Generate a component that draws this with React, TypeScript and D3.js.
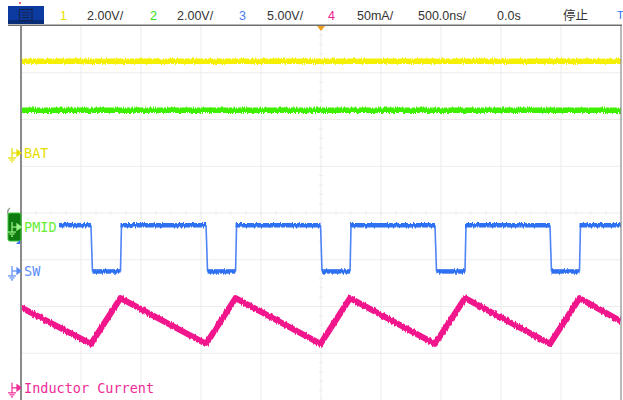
import React from "react";
import * as d3 from "d3";

// ---- Screen / scope settings ----
const W = 623;
const H = 400;
const timePerDivNs = 500;
const hDivs = 10;
const vDivs = 8;

// ---- Header texts ----
const headerItems = [
  { text: "1", x: 60, color: "#e8e000" },
  { text: "2.00V/", x: 87, color: "#333" },
  { text: "2", x: 150, color: "#33dd11" },
  { text: "2.00V/", x: 177, color: "#333" },
  { text: "3", x: 239, color: "#4a7cf0" },
  { text: "5.00V/", x: 267, color: "#333" },
  { text: "4", x: 328, color: "#f0208c" },
  { text: "50mA/", x: 357, color: "#333" },
  { text: "500.0ns/", x: 418, color: "#333" },
  { text: "0.0s", x: 497, color: "#333" },
  { text: "停止", x: 563, color: "#333" },
];

// ---- Channel settings (units/div, ground-ref offset in div) ----
const chNames = ["BAT", "PMID", "SW", "Inductor Current"];
const chColors = ["#f4f000", "#3cf000", "#2f6ff2", "#f2128c"];
const chLabelColors = ["#e6e000", "#66ee33", "#5a8cf5", "#ee2a96"];
const chScale = [2.0, 2.0, 5.0, 50];
const chOffsetDiv = [1.283, -0.3, -1.24, -3.74];

// ---- Waveform data (time in ns, values in channel units) ----
const batTimeNs = [-2500, 2500];
const batVolts = [3.93, 3.93];

const pmidTimeNs = [-2500, 2500];
const pmidVolts = [5.0, 5.0];

const swStartNs = -2183;
const swEndNs = 2500;
const swFallNs = [-1917, -958, -4, 950, 1908];
const swRiseNs = [-1671, -712, 242, 1200, 2154];
const swHighV = 4.9;
const swLowV = -0.05;

const ilTimeNs = [-2500, -1917, -1671, -958, -712, -4, 242, 950, 1200, 1908, 2154, 2500];
const ilmA = [86, 47, 96, 47, 96, 47, 96, 47, 96, 47, 96, 71];

export default function App() {
  const left = 21, right = 621, top = 26, bottom = 400;
  const x = d3.scaleLinear().domain([-(hDivs / 2) * timePerDivNs, (hDivs / 2) * timePerDivNs]).range([left, right]);
  const yDiv = d3.scaleLinear().domain([-vDivs / 2, vDivs / 2]).range([bottom, top]);
  const yCh = (ch: number, v: number) => yDiv(chOffsetDiv[ch] + v / chScale[ch]);

  const line = d3.line<[number, number]>().x((d) => d[0]).y((d) => d[1]);

  const batPts: [number, number][] = batTimeNs.map((t, i) => [x(t), yCh(0, batVolts[i])]);
  const pmidPts: [number, number][] = pmidTimeNs.map((t, i) => [x(t), yCh(1, pmidVolts[i])]);

  // SW: flat segments + edges
  const swHighSegs: [number, number][][] = [];
  const swLowSegs: [number, number][][] = [];
  const swEdges: [number, number][][] = [];
  let prev = swStartNs;
  swFallNs.forEach((f, i) => {
    const r = swRiseNs[i];
    swHighSegs.push([[x(prev), yCh(2, swHighV)], [x(f), yCh(2, swHighV)]]);
    swEdges.push([[x(f), yCh(2, swHighV)], [x(f) + 1.5, yCh(2, swLowV)]]);
    swLowSegs.push([[x(f) + 1.5, yCh(2, swLowV)], [x(r), yCh(2, swLowV)]]);
    swEdges.push([[x(r), yCh(2, swLowV)], [x(r) + 1, yCh(2, swHighV)]]);
    prev = r;
  });
  swHighSegs.push([[x(prev), yCh(2, swHighV)], [x(swEndNs), yCh(2, swHighV)]]);

  const ilPts: [number, number][] = ilTimeNs.map((t, i) => [x(t), yCh(3, ilmA[i])]);

  const vGrid = d3.range(1, hDivs).map((i) => left + ((right - left) * i) / hDivs);
  const hGrid = d3.range(1, vDivs).map((i) => top + ((bottom - top) * i) / vDivs);
  const cx = (left + right) / 2;
  const cy = (top + bottom) / 2;
  const hTicks = d3.range(0, hDivs * 4 + 1).map((i) => left + ((right - left) * i) / (hDivs * 4));
  const vTicks = d3.range(0, vDivs * 5 + 1).map((i) => top + ((bottom - top) * i) / (vDivs * 5));

  const marker = (y: number, color: string) => (
    <g stroke={color} fill="none" strokeWidth={1.2}>
      <line x1={12} y1={y - 5} x2={12} y2={y + 5} />
      <line x1={12} y1={y} x2={18} y2={y} />
      <path d={`M17,${y - 3}L21,${y}L17,${y + 3}Z`} fill={color} />
      <line x1={8} y1={y + 5} x2={16} y2={y + 5} />
      <line x1={9.5} y1={y + 7} x2={14.5} y2={y + 7} />
      <line x1={11} y1={y + 9} x2={13} y2={y + 9} />
    </g>
  );

  const labelY = chOffsetDiv.map((o) => yDiv(o));

  return (
    <svg width={W} height={H} style={{ position: "absolute", left: 0, top: 0, background: "#fff" }}>
      <defs>
        <filter id="noise" filterUnits="userSpaceOnUse" x={0} y={0} width={W} height={H}>
          <feTurbulence type="fractalNoise" baseFrequency="0.9 0.03" numOctaves={2} seed={5} result="t" />
          <feColorMatrix in="t" type="matrix" values="0 0 0 0 0.5  0 1 0 0 0  0 0 0 0 0  0 0 0 0 1" result="m" />
          <feDisplacementMap in="SourceGraphic" in2="m" scale={4} xChannelSelector="R" yChannelSelector="G" />
        </filter>
        <clipPath id="plot">
          <rect x={left + 1} y={top} width={right - left - 1} height={bottom - top} />
        </clipPath>
      </defs>
      <rect x={0} y={0} width={W} height={H} fill="#fff" />

      {/* grid */}
      <g stroke="#ececec" strokeWidth={1}>
        {vGrid.map((gx, i) => (
          <line key={"v" + i} x1={gx} y1={top} x2={gx} y2={bottom} />
        ))}
        {hGrid.map((gy, i) => (
          <line key={"h" + i} x1={left} y1={gy} x2={right} y2={gy} />
        ))}
        {hTicks.map((tx, i) => (
          <line key={"ht" + i} x1={tx} y1={cy - 2} x2={tx} y2={cy + 2} />
        ))}
        {vTicks.map((ty, i) => (
          <line key={"vt" + i} x1={cx - 2} y1={ty} x2={cx + 2} y2={ty} />
        ))}
      </g>

      {/* traces */}
      <g clipPath="url(#plot)" fill="none">
        <g filter="url(#noise)" strokeLinejoin="round">
          <path d={line(batPts) || ""} stroke={chColors[0]} strokeWidth={5.5} />
          <path d={line(pmidPts) || ""} stroke={chColors[1]} strokeWidth={5.5} />
          {swHighSegs.map((s, i) => (
            <path key={"sh" + i} d={line(s) || ""} stroke={chColors[2]} strokeWidth={4.5} />
          ))}
          {swLowSegs.map((s, i) => (
            <path key={"sl" + i} d={line(s) || ""} stroke={chColors[2]} strokeWidth={4.5} />
          ))}
          <path d={line(ilPts) || ""} stroke={chColors[3]} strokeWidth={6} />
        </g>
        {swEdges.map((s, i) => (
          <path key={"se" + i} d={line(s) || ""} stroke={chColors[2]} strokeWidth={1.6} opacity={0.85} />
        ))}
      </g>

      {/* borders */}
      <line x1={left} y1={top - 1} x2={left} y2={bottom} stroke="#6e6e6e" strokeWidth={1.6} />
      <line x1={right} y1={top - 1} x2={right} y2={bottom} stroke="#8a8a8a" strokeWidth={1.2} />
      <line x1={8} y1={25.2} x2={right + 1} y2={25.2} stroke="#707070" strokeWidth={1.4} />

      {/* trigger marker */}
      <path d={`M${cx - 4},${top}L${cx + 4},${top}L${cx},${top + 5}Z`} fill="#f0a020" />

      {/* header */}
      <rect x={8} y={6} width={36} height={18} fill="#0b3aa0" />
      <rect x={8} y={20} width={36} height={4} fill="#072c78" />
      <rect x={19.5} y={9.5} width={12.5} height={11} fill="none" stroke="#162550" strokeWidth={1.2} />
      <g stroke="#162550" strokeWidth={1}>
        <line x1={22} y1={12.5} x2={29.5} y2={12.5} />
        <line x1={22} y1={15} x2={29.5} y2={15} />
        <line x1={22} y1={17.5} x2={29.5} y2={17.5} />
      </g>
      <circle cx={20} cy={3} r={1} fill="#e03040" />
      <g fontFamily="'Liberation Sans', Arial, sans-serif" fontSize={12.5}>
        {headerItems.map((h, i) => (
          <text
            key={i}
            x={h.x}
            y={20}
            fill={h.color}
            fontFamily={h.text === "停止" ? "'Noto Sans CJK SC', sans-serif" : undefined}
          >
            {h.text}
          </text>
        ))}
        <text x={617} y={19} fill="#2f6ff2" fontSize={11}>
          T
        </text>
      </g>

      {/* channel markers & labels */}
      {marker(labelY[0], chLabelColors[0])}
      <path d={`M10,${labelY[1] - 19} a4,5 0 0 0 0,9`} stroke="#888" fill="none" strokeWidth={1.2} />
      <rect x={8} y={labelY[1] - 14} width={13} height={28} rx={2} fill="#0f7a0f" stroke="#36c836" strokeWidth={1} />
      {marker(labelY[1], "#9cf58a")}
      <path d={`M16,${labelY[1] + 17}L20,${labelY[1] + 13}L20,${labelY[1] + 17}Z`} fill={chColors[2]} />
      {marker(labelY[2], chLabelColors[2])}
      {marker(labelY[3], chLabelColors[3])}
      <g fontFamily="'DejaVu Sans Mono', monospace" fontSize={13.5}>
        {chNames.map((n, i) => (
          <text key={n} x={24} y={labelY[i] + 5} fill={chLabelColors[i]}>
            {n}
          </text>
        ))}
      </g>
    </svg>
  );
}
